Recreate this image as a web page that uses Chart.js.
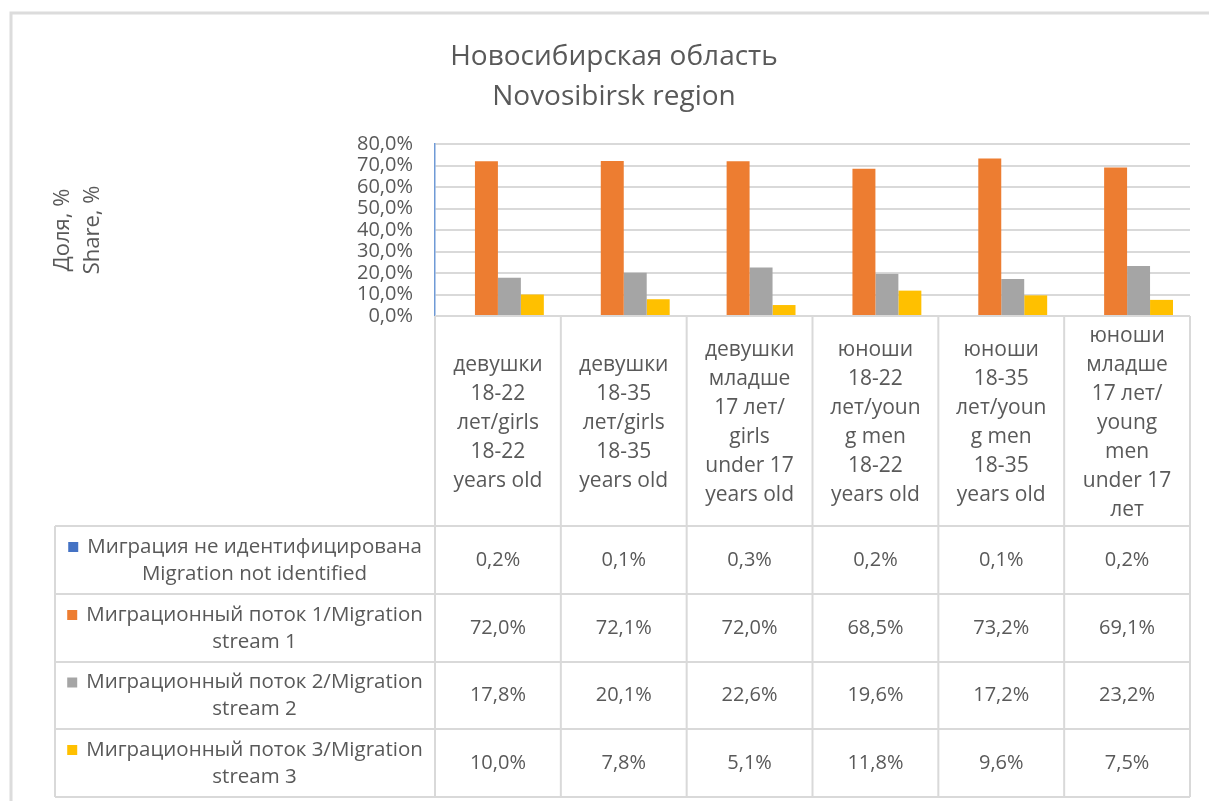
<!DOCTYPE html>
<html>
<head>
<meta charset="utf-8">
<script src="https://cdn.jsdelivr.net/npm/chart.js@4.4.1/dist/chart.umd.min.js"></script>
<style>
  html, body { margin: 0; padding: 0; background: #ffffff; }
  #wrap { position: relative; width: 1209px; height: 801px; }
</style>
</head>
<body>
<div id="wrap"><canvas id="c" width="1209" height="801"></canvas></div>
<script>
// ---- data ----
const titleLines = ['Новосибирская область', 'Novosibirsk region'];
const yAxisTitle = ['Доля, %', 'Share, %'];
const categories = [
  ['девушки', '18-22', 'лет/girls', '18-22', 'years old'],
  ['девушки', '18-35', 'лет/girls', '18-35', 'years old'],
  ['девушки', 'младше', '17 лет/', 'girls', 'under 17', 'years old'],
  ['юноши', '18-22', 'лет/youn', 'g men', '18-22', 'years old'],
  ['юноши', '18-35', 'лет/youn', 'g men', '18-35', 'years old'],
  ['юноши', 'младше', '17 лет/', 'young', 'men', 'under 17', 'лет']
];
const seriesNames = [
  ['Миграция не идентифицирована', 'Migration not identified'],
  ['Миграционный поток 1/Migration', 'stream 1'],
  ['Миграционный поток 2/Migration', 'stream 2'],
  ['Миграционный поток 3/Migration', 'stream 3']
];
const notIdentified = [0.2, 0.1, 0.3, 0.2, 0.1, 0.2];
const stream1 = [72.0, 72.1, 72.0, 68.5, 73.2, 69.1];
const stream2 = [17.8, 20.1, 22.6, 19.6, 17.2, 23.2];
const stream3 = [10.0, 7.8, 5.1, 11.8, 9.6, 7.5];
const seriesColors = ['#4472C4', '#ED7D31', '#A5A5A5', '#FFC000'];
const yTicks = [0, 10, 20, 30, 40, 50, 60, 70, 80];

const fmt = v => v.toFixed(1).replace('.', ',') + '%';
const FONT = "'Open Sans', 'Liberation Sans', sans-serif";
const TXT = '#595959';
const GRID = '#d9d9d9';

const allSeries = [notIdentified, stream1, stream2, stream3];

const tablePlugin = {
  id: 'dataTable',
  beforeDraw(chart) {
    const ctx = chart.ctx;
    ctx.save();
    ctx.strokeStyle = '#dcdcdc';
    ctx.lineWidth = 3;
    ctx.beginPath();
    ctx.moveTo(11, 801); ctx.lineTo(11, 13); ctx.lineTo(1209, 13);
    ctx.stroke();
    ctx.restore();
  },
  afterDraw(chart) {
    const ctx = chart.ctx;
    const xs = chart.scales.x;
    const area = chart.chartArea;
    const n = categories.length;
    const colW = (area.right - area.left) / n;
    const rowTops = [area.bottom, 526, 594, 662, 729, 797];
    const tableLeft = 55;
    ctx.save();
    ctx.strokeStyle = GRID;
    ctx.lineWidth = 2;
    // horizontal lines
    ctx.beginPath();
    ctx.moveTo(area.left, rowTops[0]); ctx.lineTo(area.right, rowTops[0]);
    for (let r = 1; r < rowTops.length; r++) {
      ctx.moveTo(tableLeft, rowTops[r]); ctx.lineTo(area.right, rowTops[r]);
    }
    // vertical lines
    for (let i = 0; i <= n; i++) {
      const xx = i < n ? xs.getPixelForValue(i) - colW / 2 : xs.getPixelForValue(n - 1) + colW / 2;
      ctx.moveTo(xx, rowTops[0]); ctx.lineTo(xx, rowTops[5]);
    }
    ctx.moveTo(tableLeft, rowTops[1]); ctx.lineTo(tableLeft, rowTops[5]);
    ctx.stroke();

    // header labels
    ctx.fillStyle = TXT;
    ctx.textAlign = 'center';
    ctx.textBaseline = 'middle';
    ctx.font = '21px ' + FONT;
    const lh = 29;
    const hMid = (rowTops[0] + rowTops[1]) / 2 + 2;
    categories.forEach((lines, i) => {
      const cx = xs.getPixelForValue(i);
      const y0 = hMid - (lines.length - 1) * lh / 2;
      lines.forEach((t, k) => ctx.fillText(t, cx, y0 + k * lh));
    });

    // rows
    for (let s = 0; s < allSeries.length; s++) {
      const top = rowTops[s + 1], bot = rowTops[s + 2];
      const mid = (top + bot) / 2;
      ctx.font = '20px ' + FONT;
      ctx.textAlign = 'center';
      allSeries[s].forEach((v, i) => {
        ctx.fillText(fmt(v), xs.getPixelForValue(i), mid);
      });
      // legend cell
      ctx.font = '20.5px ' + FONT;
      const cellCx = (tableLeft + area.left) / 2;
      const mk = 10, gap = 9;
      const textCx = cellCx + (mk + gap) / 2;
      const l1 = seriesNames[s][0], l2 = seriesNames[s][1];
      const y1 = mid - 13, y2 = mid + 14;
      ctx.fillText(l1, textCx, y1);
      ctx.fillText(l2, textCx, y2);
      const w1 = ctx.measureText(l1).width;
      ctx.fillStyle = seriesColors[s];
      ctx.fillRect(textCx - w1 / 2 - gap - mk, y1 - mk / 2, mk, mk);
      ctx.fillStyle = TXT;
    }
    ctx.restore();
  }
};

new Chart(document.getElementById('c'), {
  type: 'bar',
  data: {
    labels: categories,
    datasets: allSeries.map((d, i) => ({
      label: seriesNames[i].join(' '),
      data: d,
      backgroundColor: seriesColors[i],
      borderWidth: 0,
      barPercentage: 1.0,
      categoryPercentage: 0.73
    }))
  },
  options: {
    responsive: false,
    animation: false,
    layout: { padding: { left: 38, right: 19, top: 0, bottom: 485 } },
    plugins: {
      legend: { display: false },
      tooltip: { enabled: false },
      title: {
        display: true,
        text: titleLines,
        color: TXT,
        font: { family: FONT, size: 28, weight: 'normal', lineHeight: 40 / 28 },
        padding: { top: 37, bottom: 27 }
      }
    },
    scales: {
      x: {
        display: false,
        offset: true
      },
      y: {
        min: 0, max: 80,
        afterFit: s => { s.width = 397; },
        afterBuildTicks: s => { s.ticks = yTicks.map(v => ({ value: v })); },
        grid: { color: GRID, lineWidth: 2, drawTicks: false },
        border: { display: true, color: '#6f9ad6', width: 1.5 },
        ticks: {
          color: TXT,
          padding: 22,
          autoSkip: false,
          font: { family: FONT, size: 20, lineHeight: 1 },
          callback: v => fmt(v)
        },
        title: {
          display: true,
          text: yAxisTitle,
          color: TXT,
          font: { family: FONT, size: 22, lineHeight: 30 / 22 },
          padding: { top: 10, bottom: 0 }
        }
      }
    }
  },
  plugins: [tablePlugin]
});
</script>
</body>
</html>
